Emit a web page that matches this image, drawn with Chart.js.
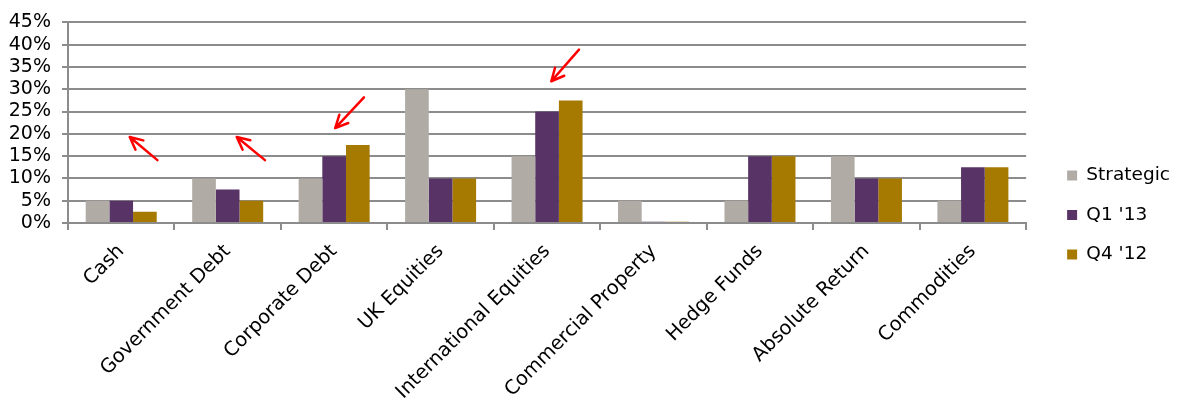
<!DOCTYPE html>
<html><head><meta charset="utf-8">
<script src="https://cdn.jsdelivr.net/npm/chart.js@4"></script>
<style>html,body{margin:0;padding:0;background:#fff}#wrap{width:1182px;height:408px}</style>
</head><body><div id="wrap"><canvas id="c" width="1182" height="408"></canvas></div>
<script>
const categories = ["Cash","Government Debt","Corporate Debt","UK Equities","International Equities","Commercial Property","Hedge Funds","Absolute Return","Commodities"];
const strategic = [5,10,10,30,15,5,5,15,5];
const q1_13 = [5,7.5,15,10,25,0.3,15,10,12.5];
const q4_12 = [2.5,5,17.5,10,27.5,0.3,15,10,12.5];
const yTicks = [0,5,10,15,20,25,30,35,40,45];
// annotation arrows: [tailIndex, tailValue, headIndex, headValue]
const arrows = [[0.34,14.1,0.08,19.3],[1.35,14.1,1.085,19.3],[2.28,28.2,2.01,21.3],[4.30,38.9,4.04,31.8]];

const arrowPlugin = {
  id:'arrows',
  afterDatasetsDraw(chart){
    const {ctx, scales:{x,y}} = chart;
    ctx.save();
    ctx.strokeStyle='#ff0000'; ctx.lineWidth=2.5; ctx.lineCap='round';
    arrows.forEach(a=>{
      const x1=x.getPixelForValue(a[0]), y1=y.getPixelForValue(a[1]);
      const x2=x.getPixelForValue(a[2]), y2=y.getPixelForValue(a[3]);
      const ang=Math.atan2(y2-y1,x2-x1), L=14, s=0.45;
      ctx.beginPath();
      ctx.moveTo(x1,y1); ctx.lineTo(x2,y2);
      ctx.moveTo(x2,y2); ctx.lineTo(x2-L*Math.cos(ang-s), y2-L*Math.sin(ang-s));
      ctx.moveTo(x2,y2); ctx.lineTo(x2-L*Math.cos(ang+s), y2-L*Math.sin(ang+s));
      ctx.stroke();
    });
    ctx.restore();
  }
};
const LEGEND_SHIFT = 20;
const legendShift = {
  id:'legendShift',
  afterLayout(chart){ const l=chart.legend; l.left+=LEGEND_SHIFT; l.right+=LEGEND_SHIFT; }
};

Chart.defaults.font.family = "'DejaVu Sans', sans-serif";
Chart.defaults.color = '#000';
new Chart(document.getElementById('c'), {
  type:'bar',
  data:{labels:categories, datasets:[
    {label:'Strategic', data:strategic, backgroundColor:'#B0ABA5'},
    {label:"Q1 '13", data:q1_13, backgroundColor:'#573366'},
    {label:"Q4 '12", data:q4_12, backgroundColor:'#A67A00'}
  ]},
  options:{
    responsive:false, animation:false,
    layout:{padding:{top:22,left:0,right:22,bottom:0}},
    datasets:{bar:{categoryPercentage:0.667, barPercentage:1}},
    plugins:{
      tooltip:{enabled:false},
      legend:{position:'right', labels:{boxWidth:10, boxHeight:10, padding:21, font:{size:18.5}}}
    },
    scales:{
      x:{
        afterFit(s){ s.height = 185; },
        grid:{offset:true, drawOnChartArea:false, drawTicks:true, tickLength:7, color:'#8c8c8c', lineWidth:2},
        border:{display:true, color:'#8c8c8c', width:2},
        ticks:{minRotation:45, maxRotation:45, autoSkip:false, font:{size:19.5}, padding:10}
      },
      y:{
        min:0, max:45,
        afterFit(s){ s.width = 68; },
        afterBuildTicks(s){ s.ticks = yTicks.map(v=>({value:v})); },
        grid:{color:'#8c8c8c', lineWidth:2, tickLength:6},
        border:{display:true, color:'#8c8c8c', width:2},
        ticks:{font:{size:19}, padding:11, autoSkip:false, callback:v=>v+'%'}
      }
    }
  },
  plugins:[arrowPlugin, legendShift]
});
</script></body></html>
